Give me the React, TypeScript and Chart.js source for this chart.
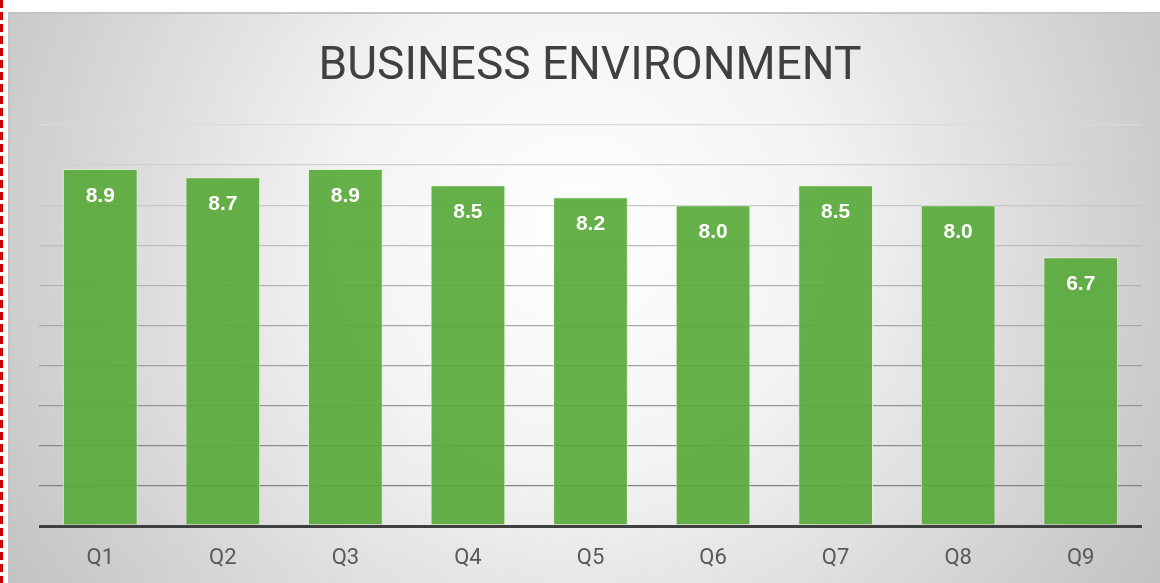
import React, { useEffect, useRef } from "react";
import { Chart, registerables } from "chart.js";

Chart.register(...registerables);

const categories = ["Q1", "Q2", "Q3", "Q4", "Q5", "Q6", "Q7", "Q8", "Q9"];
const scores = [8.9, 8.7, 8.9, 8.5, 8.2, 8.0, 8.5, 8.0, 6.7];
const chartTitle = "BUSINESS ENVIRONMENT";
const yMin = 0;
const yMax = 10;
const yStep = 1;

const backgroundPlugin = {
  id: "bgPlugin",
  beforeDraw(chart: any) {
    const { ctx, width, height } = chart;
    ctx.save();
    ctx.fillStyle = "#ffffff";
    ctx.fillRect(0, 0, width, height);
    const bx = 9, by = 13, bw = width - bx, bh = height - by;
    const g = ctx.createRadialGradient(580, 230, 0, 580, 230, 700);
    g.addColorStop(0, "#ffffff");
    g.addColorStop(0.35, "#f3f3f3");
    g.addColorStop(1, "#bfbfbf");
    ctx.fillStyle = g;
    ctx.fillRect(bx, by, bw, bh);
    ctx.strokeStyle = "#c4c4c4";
    ctx.lineWidth = 2;
    ctx.beginPath();
    ctx.moveTo(bx, height);
    ctx.lineTo(bx, by);
    ctx.lineTo(width, by);
    ctx.stroke();
    // red dashed left border
    ctx.strokeStyle = "#cc0000";
    ctx.lineWidth = 3;
    ctx.setLineDash([8, 4]);
    ctx.beginPath();
    ctx.moveTo(1.5, 0);
    ctx.lineTo(1.5, height);
    ctx.stroke();
    ctx.setLineDash([]);
    // title
    ctx.fillStyle = "#404040";
    ctx.font = "400 46px Roboto";
    ctx.textAlign = "center";
    ctx.textBaseline = "alphabetic";
    ctx.fillText(chartTitle, 590, 79);
    ctx.restore();
  },
};

const labelPlugin = {
  id: "barLabels",
  afterDatasetsDraw(chart: any) {
    const { ctx } = chart;
    const meta = chart.getDatasetMeta(0);
    ctx.save();
    ctx.fillStyle = "#ffffff";
    ctx.font = "bold 21px 'Liberation Sans'";
    ctx.textAlign = "center";
    ctx.textBaseline = "middle";
    meta.data.forEach((bar: any, i: number) => {
      ctx.fillText(scores[i].toFixed(1), bar.x, bar.y + 27);
    });
    ctx.restore();
  },
};

function gridColor(v: number) {
  if (v === 0) return "#404040";
  const t = (v - 1) / 9;
  const dark = [130, 130, 130];
  const light = [218, 218, 218];
  const c = dark.map((d, i) => Math.round(d + (light[i] - d) * t));
  return `rgb(${c[0]},${c[1]},${c[2]})`;
}

export default function App() {
  const ref = useRef<HTMLCanvasElement | null>(null);
  useEffect(() => {
    if (!ref.current) return;
    const chart = new Chart(ref.current, {
      type: "bar",
      data: {
        labels: categories,
        datasets: [
          {
            data: scores,
            backgroundColor: "rgba(90,170,60,0.93)",
            borderColor: "rgba(220,240,210,0.8)",
            borderWidth: 1,
            categoryPercentage: 1,
            barPercentage: 0.61,
          },
        ],
      },
      options: {
        animation: false,
        responsive: true,
        maintainAspectRatio: false,
        layout: { padding: { left: 39, right: 18, top: 125, bottom: 0 } },
        plugins: {
          legend: { display: false },
          title: { display: false },
          tooltip: { enabled: false },
        },
        scales: {
          x: {
            grid: { display: false },
            border: { display: false },
            ticks: {
              color: "#595959",
              font: { family: "Roboto", size: 22 },
              padding: 11,
            },
            afterFit(scale: any) {
              scale.height = 57;
            },
          },
          y: {
            min: yMin,
            max: yMax,
            ticks: { display: false, stepSize: yStep },
            border: { display: false },
            grid: {
              drawTicks: false,
              color: (c: any) => gridColor(c.tick.value),
              lineWidth: (c: any) => (c.tick.value === 0 ? 3 : 1.3),
            },
            afterFit(scale: any) {
              scale.width = 0;
            },
          },
        },
      },
      plugins: [backgroundPlugin, labelPlugin],
    });
    return () => chart.destroy();
  }, []);
  return (
    <div style={{ position: "fixed", left: 0, top: 0, width: 1160, height: 583 }}>
      <canvas ref={ref} />
    </div>
  );
}
